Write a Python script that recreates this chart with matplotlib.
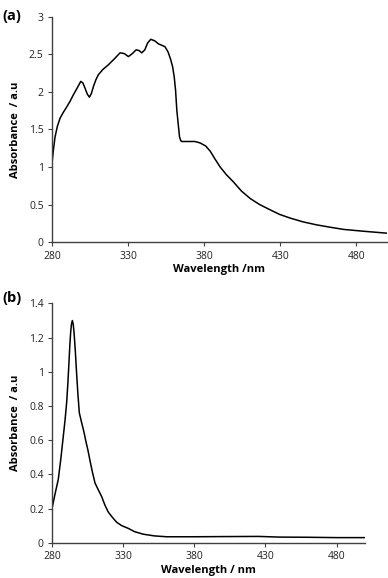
import numpy as np
import matplotlib
matplotlib.use("Agg")
from matplotlib import pyplot as plt

plt.rcParams['font.family'] = ['Open Sans', 'DejaVu Sans']

# Spectre (a)
wl_a = [280, 281, 282, 283.5, 285.3, 287.5, 289.7, 292, 294, 296.5, 298.9, 300.3,
        301.7, 303.2, 304.6, 305.9, 307.2, 308.8, 310.5, 313.5, 317, 321, 324.7,
        327.5, 330.2, 332.8, 335.3, 337.2, 339, 341, 342.8, 344.9, 347.5, 349.9,
        352.2, 354.3, 356.3, 358, 359.3, 360.3, 361.2, 362, 363, 363.8, 364.6,
        365.3, 367.5, 370.8, 374, 377.4, 381, 384, 387, 390.5, 394.5, 399.3,
        404.5, 410.3, 416.5, 423.4, 429.5, 436.6, 445, 454, 462.5, 471.6, 485, 500]
abs_a = [1.05, 1.24, 1.40, 1.54, 1.65, 1.73, 1.80, 1.88, 1.96, 2.05, 2.14, 2.12,
         2.05, 1.97, 1.93, 1.98, 2.07, 2.16, 2.23, 2.30, 2.36, 2.44, 2.52,
         2.51, 2.47, 2.51, 2.56, 2.55, 2.52, 2.56, 2.65, 2.70, 2.68, 2.64,
         2.62, 2.60, 2.53, 2.43, 2.33, 2.20, 2.02, 1.76, 1.56, 1.40, 1.35,
         1.34, 1.34, 1.34, 1.34, 1.32, 1.28, 1.21, 1.11, 1.00, 0.90, 0.80,
         0.68, 0.58, 0.50, 0.43, 0.37, 0.32, 0.27, 0.23, 0.20, 0.17, 0.145, 0.12]

# Spectre (b)
wl_b = [280, 282, 284.4, 286.2, 287.9, 289.2, 290.3, 291.2, 291.9, 292.5, 293.1,
        293.7, 294.3, 294.9, 295.5, 296.4, 297.3, 298.2, 299.2, 300.9, 302.4,
        303.9, 305.3, 306.7, 308.5, 310.2, 312.5, 314.9, 317.2, 319.5, 322.3,
        325.4, 329, 333.6, 338, 344.1, 352, 360.5, 380, 400, 425, 440, 460, 480, 500]
abs_b = [0.20, 0.28, 0.37, 0.49, 0.62, 0.72, 0.82, 0.94, 1.05, 1.15, 1.23,
         1.28, 1.30, 1.28, 1.23, 1.12, 0.99, 0.87, 0.76, 0.70, 0.65,
         0.59, 0.54, 0.48, 0.41, 0.35, 0.31, 0.27, 0.22, 0.18, 0.15,
         0.12, 0.10, 0.084, 0.065, 0.05, 0.04, 0.035, 0.035, 0.036, 0.037, 0.033, 0.032, 0.030, 0.030]

xticks = [280, 330, 380, 430, 480]
yticks_a = [0, 0.5, 1, 1.5, 2, 2.5, 3]
ylabels_a = ["0", "0.5", "1", "1.5", "2", "2.5", "3"]
yticks_b = [0, 0.2, 0.4, 0.6, 0.8, 1, 1.2, 1.4]
ylabels_b = ["0", "0.2", "0.4", "0.6", "0.8", "1", "1.2", "1.4"]


def style_axes(ax, yt, yl, ymax, xlabel):
    ax.set_xlim(280, 500)
    ax.set_ylim(0, ymax)
    ax.set_xticks(xticks)
    ax.set_xticklabels([str(t) for t in xticks])
    ax.set_yticks(yt)
    ax.set_yticklabels(yl)
    for s in ["top", "right"]:
        ax.spines[s].set_visible(False)
    for s in ["left", "bottom"]:
        ax.spines[s].set_color("#404040")
        ax.spines[s].set_linewidth(1.0)
    ax.tick_params(axis="both", labelsize=7.5, colors="#404040", labelcolor="#222222",
                   length=3, width=0.8, direction="out", pad=3)
    ax.set_xlabel(xlabel, fontsize=8, fontweight="bold", labelpad=2)
    ax.set_ylabel("Absorbance  / a.u", fontsize=8, fontweight="bold", labelpad=6)


fig = plt.figure(figsize=(3.88, 5.78), dpi=100)

ax1 = fig.add_axes([0.134, 0.581, 0.863, 0.390])
ax1.plot(wl_a, abs_a, color="black", lw=1.1)
style_axes(ax1, yticks_a, ylabels_a, 3, "Wavelength /nm")

ax2 = fig.add_axes([0.134, 0.061, 0.807, 0.414])
ax2.plot(wl_b, abs_b, color="black", lw=1.1)
style_axes(ax2, yticks_b, ylabels_b, 1.4, "Wavelength / nm")

fig.text(0.005, 0.985, "(a)", fontsize=10.5, fontweight="bold", va="top", ha="left")
fig.text(0.005, 0.497, "(b)", fontsize=10.5, fontweight="bold", va="top", ha="left")

fig.savefig("out.png", dpi=100)
